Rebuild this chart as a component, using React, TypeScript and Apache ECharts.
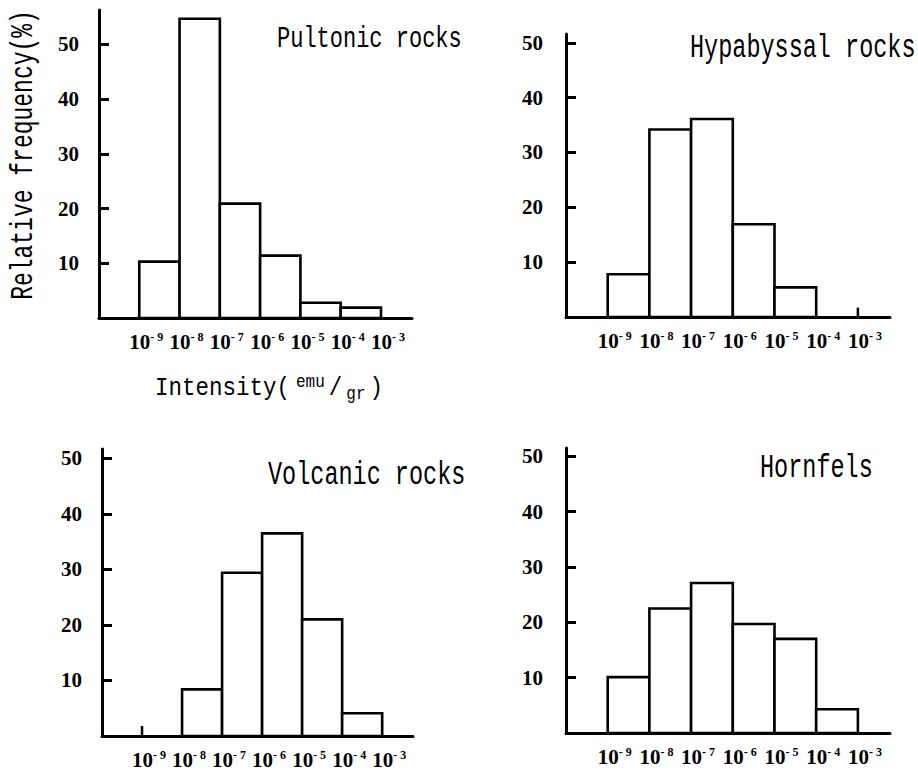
import React, { useEffect, useRef } from 'react';
import * as echarts from 'echarts';

// Bin lower edges (log10 of intensity, emu/gr); each bin spans one decade
const binStarts = [-9, -8, -7, -6, -5, -4];
const exponents = [-9, -8, -7, -6, -5, -4, -3];
const yTicks = [10, 20, 30, 40, 50];

const pultonic = [10.3, 54.7, 20.9, 11.4, 2.8, 1.9];
const hypabyssal = [7.8, 34.2, 36.1, 16.9, 5.4, 0];
const volcanic = [0, 8.4, 29.4, 36.5, 21.0, 4.1];
const hornfels = [10.1, 22.5, 27.1, 19.7, 17.0, 4.3];

const titles = ['Pultonic rocks', 'Hypabyssal rocks', 'Volcanic rocks', 'Hornfels'];
// small marks standing on the baseline: [exponent, height]
const stubsHyp = [[-3, 1.7]];
const stubsVol = [[-9, 1.8]];

const panels = [
  { values: pultonic, stubs: [] as number[][], yMax: 56.3 },
  { values: hypabyssal, stubs: stubsHyp, yMax: 51.6 },
  { values: volcanic, stubs: stubsVol, yMax: 51.7 },
  { values: hornfels, stubs: [] as number[][], yMax: 51.5 },
];

const gridLayout = [
  { left: 99, right: 506, top: 10, bottom: 460 },
  { left: 566, right: 28, top: 34, bottom: 461 },
  { left: 102, right: 505, top: 449, bottom: 42 },
  { left: 566, right: 28, top: 448, bottom: 45 },
];

const titleLayout = [
  { x: 277, y: 40, size: 22, sy: 1.3 },
  { x: 690, y: 48, size: 23.5, sy: 1.4 },
  { x: 268, y: 475, size: 23.5, sy: 1.4 },
  { x: 760, y: 468, size: 23.5, sy: 1.4 },
];

const MONO = 'Liberation Mono';
const SERIF = 'Liberation Serif';

export default function App() {
  const ref = useRef<HTMLDivElement>(null);
  useEffect(() => {
    document.body.style.margin = '0';
    if (!ref.current) return;
    const chart = echarts.init(ref.current, null, { renderer: 'svg' });

    const grid = gridLayout.map((g) => ({ ...g, containLabel: false }));
    const xAxis = panels.map((_, i) => ({
      type: 'value',
      gridIndex: i,
      min: -10,
      max: -2.23,
      splitLine: { show: false },
      axisTick: { show: false },
      axisLine: { show: true, onZero: true, lineStyle: { color: '#000', width: 3 } },
      axisLabel: {
        customValues: exponents,
        margin: 13,
        padding: [0, 0, 0, 14],
        formatter: (v: number) => `{b|10}{s|- ${-v}}`,
        rich: {
          b: { fontFamily: SERIF, fontWeight: 'bold', fontSize: 21, lineHeight: 21, color: '#000' },
          s: { fontFamily: SERIF, fontWeight: 'bold', fontSize: 12, lineHeight: 12, verticalAlign: 'top', color: '#000' },
        },
      },
    }));
    const yAxis = panels.map((p, i) => ({
      type: 'value',
      gridIndex: i,
      min: 0,
      max: p.yMax,
      splitLine: { show: false },
      axisLine: { show: true, lineStyle: { color: '#000', width: 3 } },
      axisTick: {
        show: true,
        inside: true,
        length: 10,
        customValues: yTicks,
        lineStyle: { color: '#000', width: 3 },
      },
      axisLabel: {
        customValues: yTicks,
        margin: i % 2 === 0 ? 20 : 23,
        fontFamily: SERIF,
        fontWeight: 'bold',
        fontSize: 21,
        color: '#000',
      },
    }));

    const series: any[] = [];
    panels.forEach((p, i) => {
      series.push({
        type: 'custom',
        xAxisIndex: i,
        yAxisIndex: i,
        data: binStarts.map((s, k) => [s, s + 1, p.values[k]]),
        renderItem: (params: any, api: any) => {
          const x0 = api.value(0);
          const x1 = api.value(1);
          const v = api.value(2);
          if (!v) return { type: 'group', children: [] };
          const a = api.coord([x0, v]);
          const b = api.coord([x1, 0]);
          return {
            type: 'rect',
            shape: { x: a[0], y: a[1], width: b[0] - a[0], height: b[1] - a[1] },
            style: { fill: '#fff', stroke: '#000', lineWidth: 2.6 },
          };
        },
        z: 3,
      });
      if (p.stubs.length) {
        series.push({
          type: 'custom',
          xAxisIndex: i,
          yAxisIndex: i,
          data: p.stubs,
          renderItem: (params: any, api: any) => {
            const a = api.coord([api.value(0), 0]);
            const b = api.coord([api.value(0), api.value(1)]);
            return {
              type: 'line',
              shape: { x1: a[0], y1: a[1], x2: b[0], y2: b[1] },
              style: { stroke: '#000', lineWidth: 2.5 },
            };
          },
          z: 3,
        });
      }
    });

    const graphic: any[] = titles.map((t, i) => ({
      type: 'text',
      x: titleLayout[i].x,
      y: titleLayout[i].y,
      scaleY: titleLayout[i].sy,
      style: {
        text: t,
        fontFamily: MONO,
        fontSize: titleLayout[i].size,
        fill: '#000',
        align: 'left',
        verticalAlign: 'middle',
      },
    }));
    graphic.push({
      type: 'text',
      x: 23,
      y: 155,
      rotation: Math.PI / 2,
      scaleY: 1.4,
      style: {
        text: 'Relative frequency(%)',
        fontFamily: MONO,
        fontSize: 23,
        fill: '#000',
        align: 'center',
        verticalAlign: 'middle',
      },
    });
    graphic.push({
      type: 'text',
      x: 155,
      y: 388,
      scaleY: 1.15,
      style: {
        text: '{m|Intensity(}{sup|emu}{m|/}{sub|gr}{m|)}',
        fontFamily: MONO,
        fontSize: 22.5,
        fill: '#000',
        align: 'left',
        verticalAlign: 'middle',
        rich: {
          m: { fontFamily: MONO, fontSize: 22.5, lineHeight: 26, fill: '#000' },
          sup: { fontFamily: MONO, fontSize: 16, lineHeight: 14, verticalAlign: 'top', padding: [0, 4, 0, 6], fill: '#000' },
          sub: { fontFamily: MONO, fontSize: 16, lineHeight: 14, verticalAlign: 'bottom', padding: [0, 4, 0, 4], fill: '#000' },
        },
      },
    });

    chart.setOption({
      animation: false,
      backgroundColor: '#fff',
      grid,
      xAxis,
      yAxis,
      series,
      graphic,
    });
    return () => chart.dispose();
  }, []);
  return <div ref={ref} style={{ width: 918, height: 778 }} />;
}
